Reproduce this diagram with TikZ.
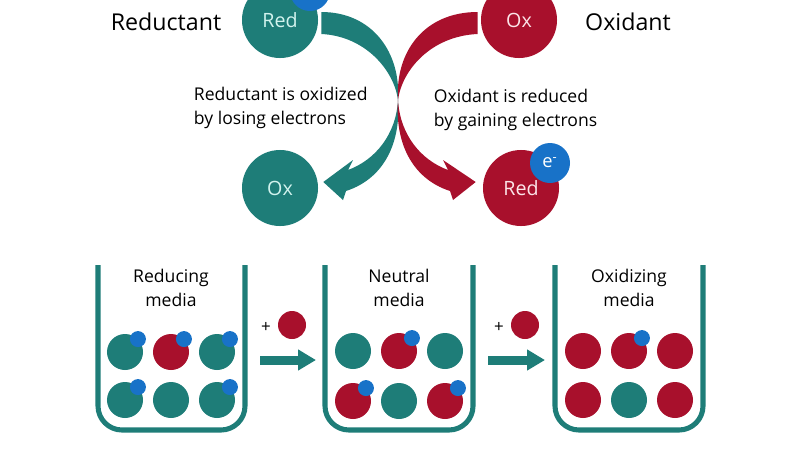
\documentclass[tikz,border=0pt]{standalone}
\usepackage{fontspec}
\setmainfont{Open Sans}
\usetikzlibrary{arrows.meta,calc}
\definecolor{rdxteal}{HTML}{1E7D78}
\definecolor{rdxred}{HTML}{A8102C}
\definecolor{eblue}{HTML}{1872C8}
\definecolor{tealtxt}{HTML}{D2F3EE}
\definecolor{redtxt}{HTML}{FCE4E8}
\tikzset{
  bigball/.style={circle,minimum size=1.9cm,inner sep=0pt,font=\fontsize{14}{16}\selectfont},
  ecirc/.style={circle,fill=eblue,minimum size=1cm,inner sep=0pt,text=white,font=\fontsize{13}{15}\selectfont},
  tball/.style={circle,fill=rdxteal,minimum size=0.9cm,inner sep=0pt},
  rball/.style={circle,fill=rdxred,minimum size=0.9cm,inner sep=0pt},
  edot/.style={circle,fill=eblue,minimum size=0.4cm,inner sep=0pt},
  beaker/.style={draw=rdxteal,line width=3.6pt,rounded corners=0.6cm},
  fatarrow/.style={draw=rdxteal,line width=6.4pt,-{Triangle[length=12.8pt,width=14.2pt]}},
  lbl/.style={font=\fontsize{12.5}{17}\selectfont},
}
\begin{document}
\begin{tikzpicture}[x=0.025cm,y=-0.025cm,>=Stealth]
\useasboundingbox (0,0) rectangle (800,450);
% top: the two redox couples
\node[bigball,fill=rdxteal,text=tealtxt] (redA) at (280,20) {Red};
\node[ecirc] (eA) at (310,-9) {};
\node[bigball,fill=rdxteal,text=tealtxt] (oxA) at (280,188) {Ox};
\node[bigball,fill=rdxred,text=redtxt] (oxB) at (519,20) {Ox};
\node[bigball,fill=rdxred,text=redtxt] (redB) at (521,188) {Red};
\node[ecirc] (eB) at (550,163) {e\textsuperscript{-}};
\node[font=\fontsize{16.5}{19}\selectfont] (reductant) at (166,22) {Reductant};
\node[font=\fontsize{16.5}{19}\selectfont] (oxidant) at (628,22) {Oxidant};
\node[lbl,align=left,anchor=west] (redtext) at (189,108) {Reductant is oxidized\\by losing electrons};
\node[lbl,align=left,anchor=west] (oxtext) at (429,110) {Oxidant is reduced\\by gaining electrons};
% crossing of the two curved arrows
\coordinate (cross) at (398,100);
% teal arrow, Red -> Ox
\fill[rdxteal] ($(redA.east)+(3,-8)$) .. controls (372,12) and (401,52) .. (cross)
  .. controls (401,140) and (386,178) .. (346,191) -- (343,200) -- ($(oxA.east)+(5,-6)$)
  -- (353,160) -- (348,170) .. controls (375,160) and (396,135) .. (cross)
  .. controls (394,70) and (365,36) .. ($(redA.east)+(3,14)$) -- cycle;
% red arrow, Ox -> Red
\fill[rdxred] ($(oxB.west)+(-3,-8)$) .. controls (424,12) and (395,52) .. (cross)
  .. controls (395,140) and (410,178) .. (450,191) -- (453,200) -- ($(redB.west)+(-7,-6)$)
  -- (443,160) -- (448,170) .. controls (421,160) and (400,135) .. (cross)
  .. controls (402,70) and (431,36) .. ($(oxB.west)+(-3,14)$) -- cycle;
% bottom: three beakers
\draw[beaker] (98,265) -- (98,430) -- (245,430) -- (245,265);
\draw[beaker] (325,265) -- (325,430) -- (473,430) -- (473,265);
\draw[beaker] (555,265) -- (555,430) -- (703,430) -- (703,265);
\node[lbl,align=center] (m1) at (171,288) {Reducing\\media};
\node[lbl,align=center] (m2) at (399,288) {Neutral\\media};
\node[lbl,align=center] (m3) at (629,288) {Oxidizing\\media};
% reducing media
\node[tball] (b1a) at (125,352) {};
\node[rball] (b1b) at (171,352) {};
\node[tball] (b1c) at (217,352) {};
\node[tball] (b1d) at (125,400) {};
\node[tball] (b1e) at (171,400) {};
\node[tball] (b1f) at (217,400) {};
% neutral media
\node[tball] (b2a) at (353,351) {};
\node[rball] (b2b) at (399,351) {};
\node[tball] (b2c) at (445,351) {};
\node[rball] (b2d) at (353,401) {};
\node[tball] (b2e) at (399,401) {};
\node[rball] (b2f) at (445,401) {};
% oxidizing media
\node[rball] (b3a) at (583,351) {};
\node[rball] (b3b) at (629,351) {};
\node[rball] (b3c) at (675,351) {};
\node[rball] (b3d) at (583,400) {};
\node[tball] (b3e) at (629,400) {};
\node[rball] (b3f) at (675,400) {};
% electrons
\foreach \b in {b1a,b1b,b1c,b1d,b1f,b2b,b2d,b2f,b3b}
  \node[edot] (e-\b) at (\b.45) {};
% adding oxidant
\node[font=\fontsize{12}{14}\selectfont] (plus1) at (266,327) {+};
\node[rball,minimum size=0.7cm] (ox1) at (292,325) {};
\coordinate (a1s) at (260,360);
\coordinate (a1e) at (316,360);
\draw[fatarrow] (a1s) -- (a1e);
\node[font=\fontsize{12}{14}\selectfont] (plus2) at (499,327) {+};
\node[rball,minimum size=0.7cm] (ox2) at (525,325) {};
\coordinate (a2s) at (488,360);
\coordinate (a2e) at (545,360);
\draw[fatarrow] (a2s) -- (a2e);
\end{tikzpicture}
\end{document}
